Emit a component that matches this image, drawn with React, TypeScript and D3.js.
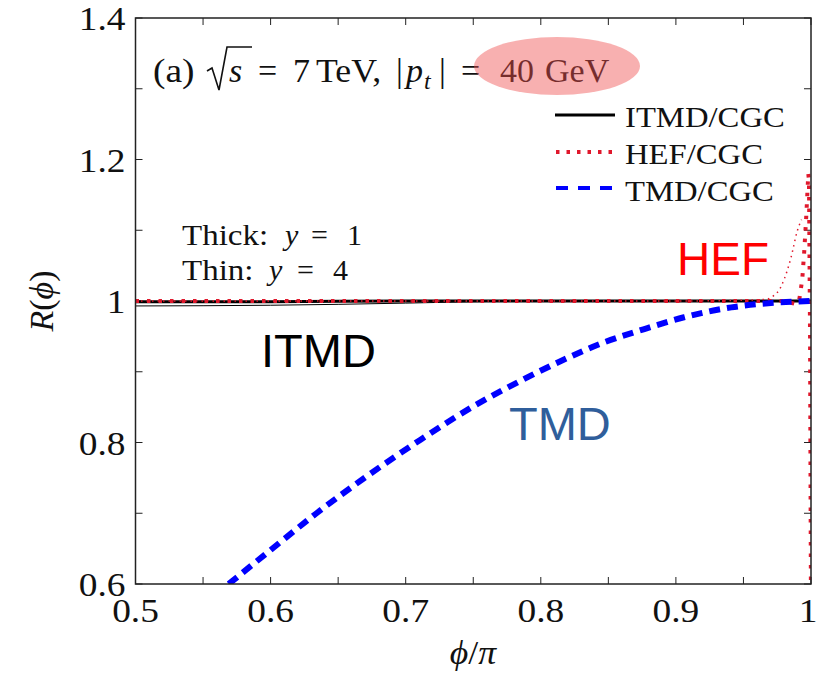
import React from "react";
import * as d3 from "d3";

const W = 818, H = 683;

// Tick values / labels
const xMajor = [0.5, 0.6, 0.7, 0.8, 0.9, 1.0];
const xMajorLabels = ["0.5", "0.6", "0.7", "0.8", "0.9", "1"];
const xMinor = [0.55, 0.65, 0.75, 0.85, 0.95];
const yMajor = [0.6, 0.8, 1.0, 1.2, 1.4];
const yMajorLabels = ["0.6", "0.8", "1", "1.2", "1.4"];
const yMinor = [0.7, 0.9, 1.1, 1.3];

// TMD/CGC, thick (y=1)
const tmdThickX = [0.569, 0.6, 0.634, 0.671, 0.711, 0.75, 0.79, 0.818, 0.846, 0.876, 0.906, 0.941, 0.977, 1.0];
const tmdThickR = [0.6, 0.648, 0.7, 0.752, 0.804, 0.851, 0.892, 0.918, 0.941, 0.96, 0.977, 0.991, 0.998, 1.0];

// ITMD/CGC thick (y=1) and thin (y=4)
const itmdThickX = [0.5, 0.6, 0.7, 0.8, 0.9, 1.0];
const itmdThickR = [0.999, 0.999, 1.0, 1.0, 1.0, 1.0];
const itmdThinX = [0.5, 0.6, 0.7, 0.75, 0.8, 1.0];
const itmdThinR = [0.993, 0.994, 0.997, 0.999, 1.0, 1.0];

// HEF/CGC thick (y=1) and thin (y=4)
const hefThickX = [0.5, 0.7, 0.9, 0.98, 0.988, 0.991, 0.9935, 0.995, 0.9965, 0.9975, 0.998, 0.9985, 0.9993, 1.0];
const hefThickR = [1.0, 1.0, 1.0, 1.0, 0.996, 0.998, 1.03, 1.07, 1.12, 1.16, 1.18, 1.17, 0.95, 0.55];
const hefThinX = [0.5, 0.9, 0.965, 0.975, 0.98, 0.985, 0.99, 0.993];
const hefThinR = [1.0, 1.0, 1.002, 1.012, 1.03, 1.06, 1.1, 1.115];

const legendItems = ["ITMD/CGC", "HEF/CGC", "TMD/CGC"];

const SERIF = "'Liberation Serif', 'DejaVu Serif', serif";
const SANS = "'Liberation Sans', Arial, sans-serif";

type TProps = {
  x: number; y: number; size: number; sx?: number; anchor?: string; italic?: boolean;
  children: React.ReactNode; fill?: string;
};
function T({ x, y, size, sx = 1, anchor = "start", italic = false, children, fill = "#111" }: TProps) {
  return (
    <g transform={`translate(${x},${y}) scale(${sx},1)`}>
      <text x={0} y={0} fontFamily={SERIF} fontSize={size} textAnchor={anchor}
        fontStyle={italic ? "italic" : "normal"} fill={fill}>{children}</text>
    </g>
  );
}

export default function App() {
  const left = 135.5, right = 811, top = 18, bottom = 584;
  const x = d3.scaleLinear().domain([0.5, 1]).range([left, right]);
  const y = d3.scaleLinear().domain([0.6, 1.4]).range([bottom, top]);

  const mk = (xs: number[], rs: number[], curve: d3.CurveFactory = d3.curveMonotoneX) =>
    d3.line<number>().x((_, i) => x(xs[i])).y((_, i) => y(rs[i])).curve(curve)(xs) || "";

  const tick = 7;
  const red = "#e0182c";
  const blue = "#0000ff";
  const tl = 34; // tick label size

  return (
    <svg width={W} height={H} style={{ position: "absolute", left: 0, top: 0, background: "#fff" }}>
      <defs>
        <clipPath id="plot">
          <rect x={left} y={top} width={right - left} height={bottom - top} />
        </clipPath>
      </defs>

      {/* ticks */}
      <g stroke="#222" strokeWidth={1}>
        {[...xMajor, ...xMinor].map((v, i) => (
          <g key={"xt" + i}>
            <line x1={x(v)} x2={x(v)} y1={bottom} y2={bottom - tick} />
            <line x1={x(v)} x2={x(v)} y1={top} y2={top + tick} />
          </g>
        ))}
        {[...yMajor, ...yMinor].map((v, i) => (
          <g key={"yt" + i}>
            <line x1={left} x2={left + tick} y1={y(v)} y2={y(v)} />
            <line x1={right} x2={right - tick} y1={y(v)} y2={y(v)} />
          </g>
        ))}
      </g>

      {/* tick labels */}
      {xMajor.map((v, i) => (
        <T key={"xl" + i} x={Math.min(x(v), 808)} y={bottom + 38} size={tl} sx={1.1} anchor="middle">{xMajorLabels[i]}</T>
      ))}
      {yMajor.map((v, i) => (
        <T key={"yl" + i} x={left - 10} y={y(v) + 12} size={tl} sx={1.1} anchor="end">{yMajorLabels[i]}</T>
      ))}

      {/* axis labels */}
      <T x={473} y={664} size={34} sx={1.05} anchor="middle">
        <tspan fontStyle="italic">ϕ</tspan>/<tspan fontStyle="italic">π</tspan>
      </T>
      <g transform={`translate(53,${y(1)}) rotate(-90)`}>
        <text x={0} y={0} textAnchor="middle" fontFamily={SERIF} fontSize={34} fill="#111">
          <tspan fontStyle="italic">R</tspan>(<tspan fontStyle="italic">ϕ</tspan>)
        </text>
      </g>

      {/* data */}
      <g clipPath="url(#plot)" fill="none">
        <path d={mk(itmdThinX, itmdThinR)} stroke="#000" strokeWidth={1} />
        <path d={mk(itmdThickX, itmdThickR)} stroke="#000" strokeWidth={3} />
        <path d={mk(hefThinX, hefThinR)} stroke={red} strokeWidth={1.5} strokeDasharray="1.5 4" />
        <path d={mk(hefThickX, hefThickR, d3.curveLinear)} stroke={red} strokeWidth={4} strokeDasharray="3.5 8" />
        <path d={mk(tmdThickX, tmdThickR)} stroke={blue} strokeWidth={6} strokeDasharray="11 7" />
      </g>

      {/* frame */}
      <rect x={left} y={top} width={right - left} height={bottom - top} fill="none" stroke="#222" strokeWidth={1.5} />

      {/* title */}
      <g>
        <T x={153} y={82} size={34} sx={1.1}>(a)</T>
        <path d="M207,71 L212,68 L219,90 L227,47 L252,47" fill="none" stroke="#111" strokeWidth={1.6} />
        <T x={229} y={82} size={34} italic>s</T>
        <T x={258} y={82} size={34}>=</T>
        <T x={293} y={82} size={34}>7</T>
        <T x={316} y={82} size={34} sx={1.05}>TeV,</T>
        <T x={396} y={82} size={34}>|</T>
        <T x={406} y={82} size={34} italic>p</T>
        <T x={424} y={89} size={24} italic>t</T>
        <T x={439} y={82} size={34}>|</T>
        <T x={461} y={82} size={34}>=</T>
        <T x={500} y={82} size={34}>40</T>
        <T x={545} y={82} size={34}>GeV</T>
      </g>
      <ellipse cx={557} cy={66} rx={83} ry={29} fill="rgb(240,80,80)" fillOpacity={0.45} />

      {/* legend */}
      <g>
        <line x1={555} x2={615} y1={115} y2={115} stroke="#000" strokeWidth={3} />
        <line x1={556} x2={615} y1={152} y2={152} stroke={red} strokeWidth={4} strokeDasharray="3.5 7" />
        <line x1={556} x2={615} y1={188} y2={188} stroke={blue} strokeWidth={4} strokeDasharray="12 10" />
        {legendItems.map((t, i) => (
          <T key={t} x={625} y={127 + i * 37} size={30} sx={1.09}>{t}</T>
        ))}
      </g>

      {/* thick/thin note */}
      <T x={182} y={245} size={30} sx={1.1}>Thick:</T>
      <T x={285} y={245} size={30} italic>y</T>
      <T x={311} y={245} size={30}>=</T>
      <T x={347} y={245} size={30}>1</T>
      <T x={182} y={280} size={30} sx={1.1}>Thin:</T>
      <T x={269} y={280} size={30} italic>y</T>
      <T x={297} y={280} size={30}>=</T>
      <T x={333} y={280} size={30}>4</T>

      {/* annotations */}
      <text x={677} y={275} fontFamily={SANS} fontSize={46} fill="#ff0000">HEF</text>
      <text x={261} y={367} fontFamily={SANS} fontSize={47} fill="#000">ITMD</text>
      <text x={509} y={440} fontFamily={SANS} fontSize={47} fill="#2f5e9b">TMD</text>
    </svg>
  );
}
